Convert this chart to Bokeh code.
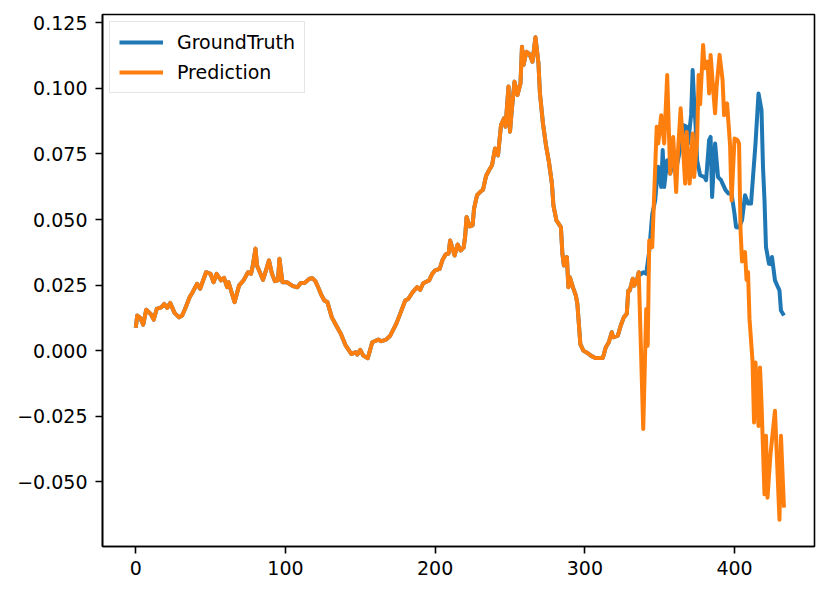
from bokeh.plotting import figure
from bokeh.models import Range1d, FixedTicker, Legend, LegendItem
from bokeh.embed import file_html
from bokeh.resources import INLINE

# ---- data ----
common_x = [0, 1, 3, 5, 7, 10, 12, 14, 17, 19, 21, 23, 26, 29, 31, 33, 36, 38, 41, 43,
            47, 50, 52, 54, 57, 59, 61, 62, 66, 69, 72, 75, 77, 78, 80, 81, 85, 87, 89, 91,
            93, 95, 96, 98, 101, 105, 108, 110, 113, 116, 118, 120, 122, 124, 126, 128, 131,
            134, 137, 140, 142, 144, 147, 148, 150, 152, 155, 158, 162, 164, 167, 170, 174,
            177, 180, 182, 185, 188, 190, 192, 196, 198, 200, 203, 205, 207, 209, 210, 213,
            215, 217, 219, 220, 221, 223, 225, 226, 228, 230, 232, 234, 236, 238, 240, 242,
            244, 246, 247, 249, 250, 251, 253, 255, 257, 258, 259, 261, 263, 265, 267, 269,
            270, 272, 274, 276, 278, 279, 281, 284, 285, 286, 288, 289, 290, 292, 294, 295,
            297, 299, 302, 304, 307, 312, 314, 316, 318, 319, 322, 324, 326, 328, 329, 330,
            332, 333, 335, 336]
common_y = [0.0087, 0.0134, 0.0125, 0.0099, 0.0156, 0.0140, 0.0118, 0.0159, 0.0165, 0.0178,
            0.0163, 0.0182, 0.0143, 0.0127, 0.0134, 0.0160, 0.0204, 0.0223, 0.0255, 0.0236,
            0.0299, 0.0293, 0.0261, 0.0293, 0.0268, 0.0278, 0.0242, 0.0261, 0.0185, 0.0248,
            0.0268, 0.0299, 0.0293, 0.0318, 0.0389, 0.0325, 0.0270, 0.0306, 0.0344, 0.0293,
            0.0265, 0.0268, 0.0350, 0.0261, 0.0261, 0.0246, 0.0242, 0.0257, 0.0259, 0.0274,
            0.0276, 0.0265, 0.0240, 0.0212, 0.0191, 0.0185, 0.0127, 0.0095, 0.0064, 0.0022,
            0.0005, -0.0013, -0.0006, -0.0015, 0.0003, -0.0019, -0.0029, 0.0032, 0.0042,
            0.0036, 0.0041, 0.0057, 0.0102, 0.0146, 0.0191, 0.0197, 0.0223, 0.0242, 0.0232,
            0.0257, 0.0268, 0.0293, 0.0306, 0.0312, 0.0347, 0.0367, 0.0370, 0.0420, 0.0363,
            0.0405, 0.0382, 0.0393, 0.0433, 0.0510, 0.0474, 0.0478, 0.0542, 0.0593, 0.0605,
            0.0614, 0.0666, 0.0688, 0.0707, 0.0771, 0.0745, 0.0860, 0.0886, 0.0854, 0.1007,
            0.0835, 0.0905, 0.1026, 0.0975, 0.1019, 0.1159, 0.1089, 0.1140, 0.1131, 0.1102,
            0.1195, 0.1096, 0.0981, 0.0867, 0.0784, 0.0720, 0.0637, 0.0554, 0.0497, 0.0471,
            0.0370, 0.0325, 0.0357, 0.0242, 0.0280, 0.0242, 0.0210, 0.0178, 0.0025, 0.0000,
            -0.0010, -0.0019, -0.0028, -0.0028, 0.0013, 0.0032, 0.0070, 0.0051, 0.0057,
            0.0096, 0.0127, 0.0140, 0.0229, 0.0229, 0.0274, 0.0248, 0.0274, 0.0299]

gt_tail_x = [337, 339, 341, 343, 345, 347, 348, 349, 351, 352, 353, 355, 357, 359, 361, 363,
             365, 366, 368, 369, 371, 372, 373, 374, 375, 377, 380, 381, 383, 384, 385, 387,
             389, 391, 392, 394, 396, 398, 400, 401, 403, 405, 407, 409, 411, 414, 416, 418,
             419, 420, 421, 423, 424, 425, 427, 429, 430, 431, 433]
gt_tail_y = [0.0290, 0.0299, 0.0293, 0.0380, 0.0520, 0.0573, 0.0640, 0.0701, 0.0624, 0.0765,
             0.0624, 0.0726, 0.0675, 0.0720, 0.0690, 0.0750, 0.0800, 0.0860, 0.0854, 0.0790,
             0.0900, 0.1070, 0.0950, 0.0854, 0.0726, 0.0669, 0.0662, 0.0650, 0.0803, 0.0815,
             0.0586, 0.0790, 0.0662, 0.0650, 0.0637, 0.0612, 0.0599, 0.0599, 0.0520, 0.0471,
             0.0470, 0.0497, 0.0593, 0.0561, 0.0561, 0.0790, 0.0981, 0.0917, 0.0700, 0.0573,
             0.0395, 0.0331, 0.0330, 0.0357, 0.0268, 0.0242, 0.0230, 0.0153, 0.0134]

pred_tail_x = [339, 341, 342, 343, 345, 348, 349, 351, 353, 355, 357, 359, 361, 362, 364, 367,
               368, 370, 372, 373, 375, 376, 377, 379, 380, 382, 383, 384, 386, 387, 388, 390,
               392, 393, 395, 397, 398, 400, 402, 403, 404, 405, 407, 408, 409, 410, 412, 413,
               414, 416, 417, 418, 420, 421, 422, 424, 427, 430, 431, 433]
pred_tail_y = [-0.0299, 0.0159, 0.0019, 0.0420, 0.0395, 0.0854, 0.0790, 0.0898, 0.0790, 0.1051,
               0.0675, 0.0815, 0.0605, 0.0739, 0.0924, 0.0637, 0.0834, 0.0637, 0.0828, 0.0662,
               0.0803, 0.1051, 0.0940, 0.1166, 0.1077, 0.1102, 0.0981, 0.1128, 0.0975, 0.0905,
               0.1007, 0.1128, 0.1032, 0.0898, 0.0943, 0.0784, 0.0573, 0.0809, 0.0803, 0.0790,
               0.0459, 0.0340, 0.0376, 0.0270, 0.0300, 0.0120, -0.0040, -0.0274, -0.0045,
               -0.0287, -0.0064, -0.0200, -0.0548, -0.0325, -0.0561, -0.0395, -0.0229, -0.0645,
               -0.0325, -0.0599]

gt_x = common_x + gt_tail_x
gt_y = common_y + gt_tail_y
pred_x = common_x + pred_tail_x
pred_y = common_y + pred_tail_y

x_ticks = [0, 100, 200, 300, 400]
y_ticks = [-0.05, -0.025, 0.0, 0.025, 0.05, 0.075, 0.1, 0.125]
y_tick_labels = ["\u22120.050", "\u22120.025", "0.000", "0.025", "0.050", "0.075", "0.100", "0.125"]

# ---- figure ----
p = figure(width=822, height=585, output_backend="svg", toolbar_location=None,
           x_range=Range1d(-22.2, 453.4), y_range=Range1d(-0.0747, 0.1282),
           min_border_left=102, min_border_right=8, min_border_top=14, min_border_bottom=39)
p.xgrid.visible = False
p.ygrid.visible = False
p.outline_line_color = "black"
p.outline_line_width = 1.6
p.outline_line_alpha = 1.0

gt = p.line(gt_x, gt_y, line_color="#1f77b4", line_width=4, line_join="round")
pr = p.line(pred_x, pred_y, line_color="#ff7f0e", line_width=4, line_join="round")

for ax in (p.xaxis[0], p.yaxis[0]):
    ax.axis_line_color = "black"
    ax.axis_line_width = 1.6
    ax.major_tick_in = 0
    ax.major_tick_out = 7
    ax.major_tick_line_width = 1.6
    ax.minor_tick_line_color = None
    ax.major_label_text_font = "DejaVu Sans"
    ax.major_label_text_font_size = "19px"
    ax.major_label_text_color = "black"

p.xaxis.ticker = FixedTicker(ticks=x_ticks)
p.xaxis.major_label_standoff = 7
p.yaxis.ticker = FixedTicker(ticks=y_ticks)
p.yaxis.major_label_overrides = dict(zip(y_ticks, y_tick_labels))
p.yaxis.major_label_standoff = 8

legend = Legend(items=[LegendItem(label="GroundTruth", renderers=[gt]),
                       LegendItem(label="Prediction", renderers=[pr])],
                location="top_left")
legend.label_text_font = "DejaVu Sans"
legend.label_text_font_size = "19px"
legend.label_text_color = "black"
legend.glyph_width = 44
legend.glyph_height = 20
legend.label_height = 20
legend.label_standoff = 14
legend.padding = 9
legend.spacing = 8
legend.margin = 7
legend.border_line_color = "#cccccc"
legend.border_line_width = 1.5
legend.background_fill_alpha = 0.8
p.add_layout(legend)

open("out.html", "w").write(file_html(p, INLINE))
